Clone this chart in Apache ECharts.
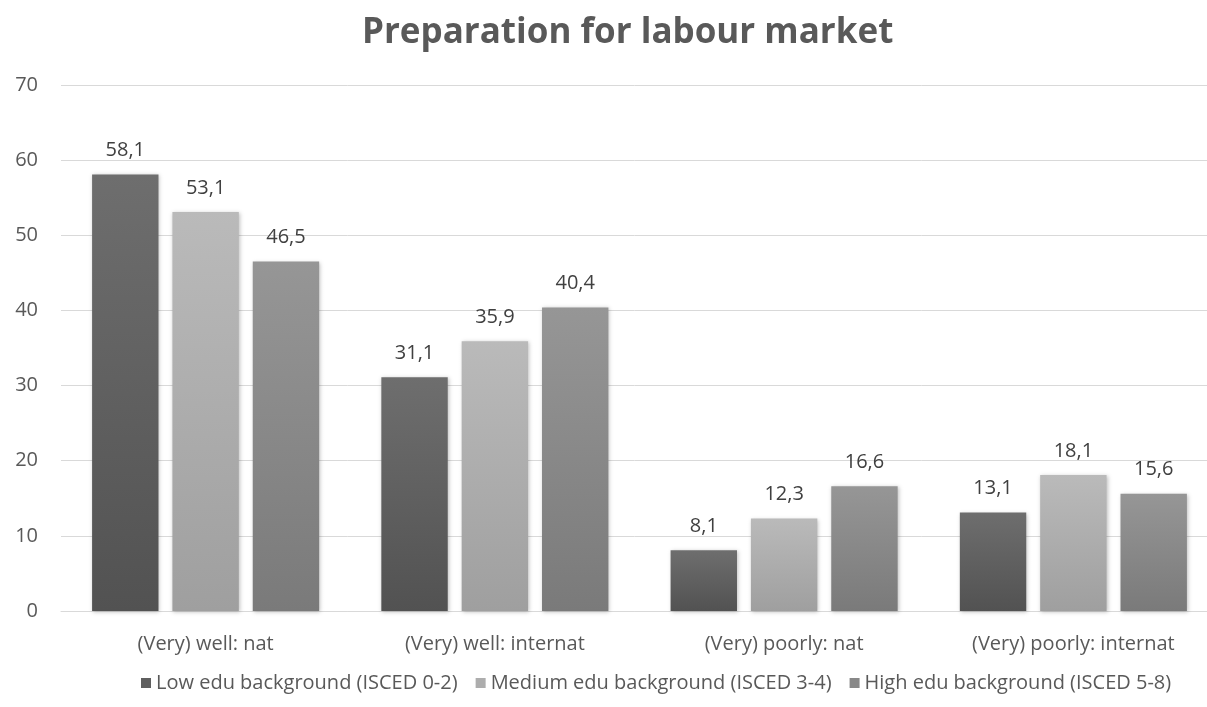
<!DOCTYPE html>
<html><head><meta charset="utf-8">
<script src="https://cdn.jsdelivr.net/npm/echarts@6/dist/echarts.min.js"></script>
<style>html,body{margin:0;padding:0;background:#fff}#c{width:1207px;height:707px}</style>
</head><body><div id="c"></div>
<script>
const categories = ['(Very) well: nat', '(Very) well: internat', '(Very) poorly: nat', '(Very) poorly: internat'];
const seriesNames = ['Low edu background (ISCED 0-2)', 'Medium edu background (ISCED 3-4)', 'High edu background (ISCED 5-8)'];
const lowEdu = [58.1, 31.1, 8.1, 13.1];
const mediumEdu = [53.1, 35.9, 12.3, 18.1];
const highEdu = [46.5, 40.4, 16.6, 15.6];
const yTicks = [0, 10, 20, 30, 40, 50, 60, 70];

const colors = [['#6e6e6e', '#525252'], ['#bababa', '#9f9f9f'], ['#969696', '#7a7a7a']];
const legendColors = ['#5f5f5f', '#adadad', '#888888'];
const font = '"Open Sans", "Noto Sans", sans-serif';
function grad(c) {
  return new echarts.graphic.LinearGradient(0, 0, 0, 1, [{offset: 0, color: c[0]}, {offset: 1, color: c[1]}]);
}
const datas = [lowEdu, mediumEdu, highEdu];
const chart = echarts.init(document.getElementById('c'), null, {renderer: 'canvas'});
chart.setOption({
  animation: false,
  backgroundColor: '#fff',
  title: {text: 'Preparation for labour market', left: 357, top: 11,
    textStyle: {fontFamily: font, fontSize: 35, fontWeight: 'bold', color: '#595959'}},
  legend: {top: 668, left: 136, itemWidth: 10, itemHeight: 10, itemGap: 18, icon: 'rect',
    textStyle: {fontFamily: font, fontSize: 20, color: '#595959', padding: [0, 0, 0, 0]},
    data: seriesNames.map((n, i) => ({name: n, itemStyle: {color: legendColors[i]}}))},
  grid: {left: 61, right: -11, top: 85, bottom: 96, containLabel: false, outerBoundsMode: 'none'},
  xAxis: {type: 'category', data: categories,
    axisLine: {lineStyle: {color: '#d9d9d9', width: 1}}, axisTick: {show: false},
    axisLabel: {fontFamily: font, fontSize: 20, color: '#595959', margin: 23}},
  yAxis: {type: 'value', min: 0, max: 70, interval: 10,
    axisLine: {show: false}, axisTick: {show: false},
    splitLine: {lineStyle: {color: '#d9d9d9', width: 1}},
    axisLabel: {fontFamily: font, fontSize: 20, color: '#595959', margin: 23,
      formatter: v => yTicks.includes(v) ? String(v) : ''}},
  series: datas.map((d, i) => ({
    name: seriesNames[i], type: 'bar', data: d,
    barGap: '21%', barCategoryGap: '21.5%',
    itemStyle: {color: grad(colors[i]), shadowColor: 'rgba(0,0,0,0.25)', shadowBlur: 4, shadowOffsetX: 1, shadowOffsetY: 1},
    label: {show: true, position: 'top', distance: 14, fontFamily: font, fontSize: 20, color: '#404040',
      formatter: p => p.value.toFixed(1).replace('.', ',')}
  }))
});
</script></body></html>
